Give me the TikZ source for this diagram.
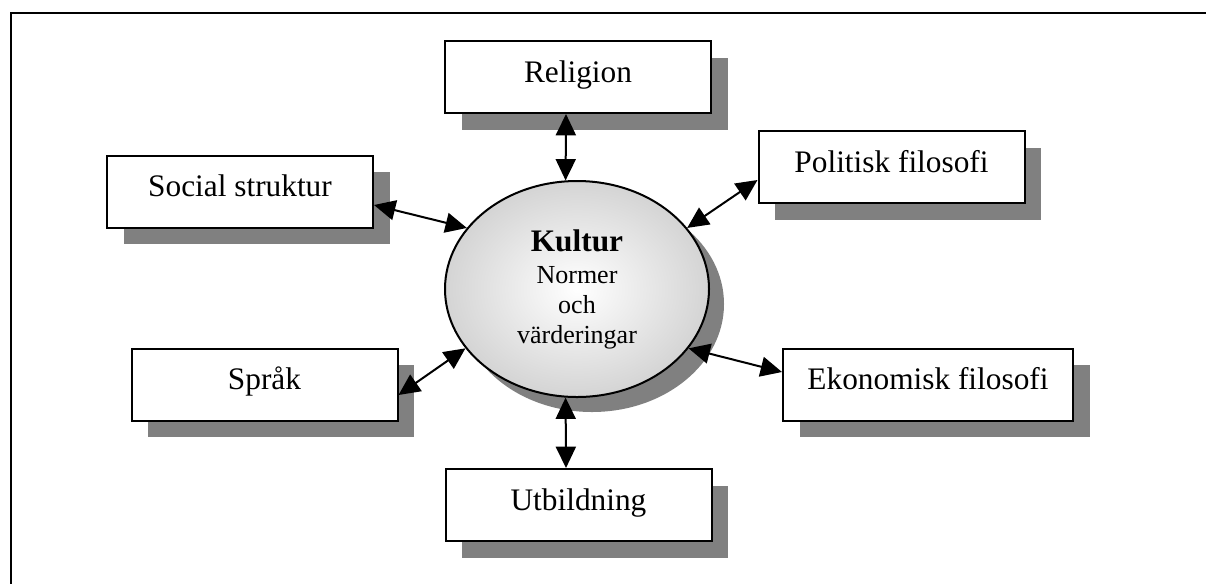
\documentclass[tikz,border=0pt]{standalone}
\usepackage{fontspec}
\setmainfont{Liberation Serif}
\usetikzlibrary{shapes.geometric,shadows,arrows.meta,calc}
\definecolor{shadowgray}{RGB}{128,128,128}
\definecolor{rimgray}{RGB}{212,212,212}
\begin{document}
\begin{tikzpicture}[x=0.75pt,y=-0.75pt,
  topicbox/.style={rectangle, draw=black, line width=1.5pt, fill=white,
    minimum width=199.5pt, minimum height=54pt, inner sep=0pt,
    text height=12pt, text depth=4.5pt,
    font=\fontsize{23.5pt}{26pt}\selectfont,
    general shadow={fill=shadowgray, shadow xshift=12.4pt, shadow yshift=-12.4pt}},
  core/.style={ellipse, draw=black, line width=1.5pt,
    minimum width=198pt, minimum height=162pt, inner sep=0pt,
    shading=radial, inner color=white, outer color=rimgray,
    align=center, font=\fontsize{19.5pt}{22.5pt}\selectfont,
    general shadow={fill=shadowgray, shadow xshift=11.25pt, shadow yshift=-11.25pt}},
  link/.style={{Triangle[length=16pt,width=15pt]}-{Triangle[length=16pt,width=15pt]},
    line width=1.5pt}
]
\useasboundingbox (0,0) rectangle (1206,583);
\fill[white] (0,0) rectangle (1206,583);

% page frame, running off the right and bottom edges
\draw[line width=1.5pt] (11,620) |- (1240,13);

% centre: culture
\node[core] (kul) at (577,289)
  {{\fontsize{23.5pt}{24pt}\selectfont\bfseries Kultur}\\[1.5pt]Normer\\och\\värderingar};

% surrounding factors
\node[topicbox] (rel) at (578,77)     {Religion};
\node[topicbox] (soc) at (240,191.5)  {Social struktur};
\node[topicbox] (pol) at (891.5,167)  {Politisk filosofi};
\node[topicbox] (spr) at (264.5,384.5){Språk};
\node[topicbox, minimum width=217.5pt] (eko) at (928,384.5) {Ekonomisk filosofi};
\node[topicbox] (utb) at (578.5,505)  {Utbildning};

% two-way links
\draw[link] ($(rel.south)+(-12,0)$)   -- (kul.96);
\draw[link] ($(utb.north)+(-12.5,0)$) -- (kul.264);
\draw[link] ($(soc.east)+(0,13.5)$)   -- (kul.151.5);
\draw[link] ($(pol.west)+(0,13)$)     -- (kul.29);
\draw[link] ($(spr.east)+(0,10.5)$)   -- (kul.208.4);
\draw[link] ($(eko.west)+(0,-12.5)$)  -- (kul.332);
\end{tikzpicture}
\end{document}
